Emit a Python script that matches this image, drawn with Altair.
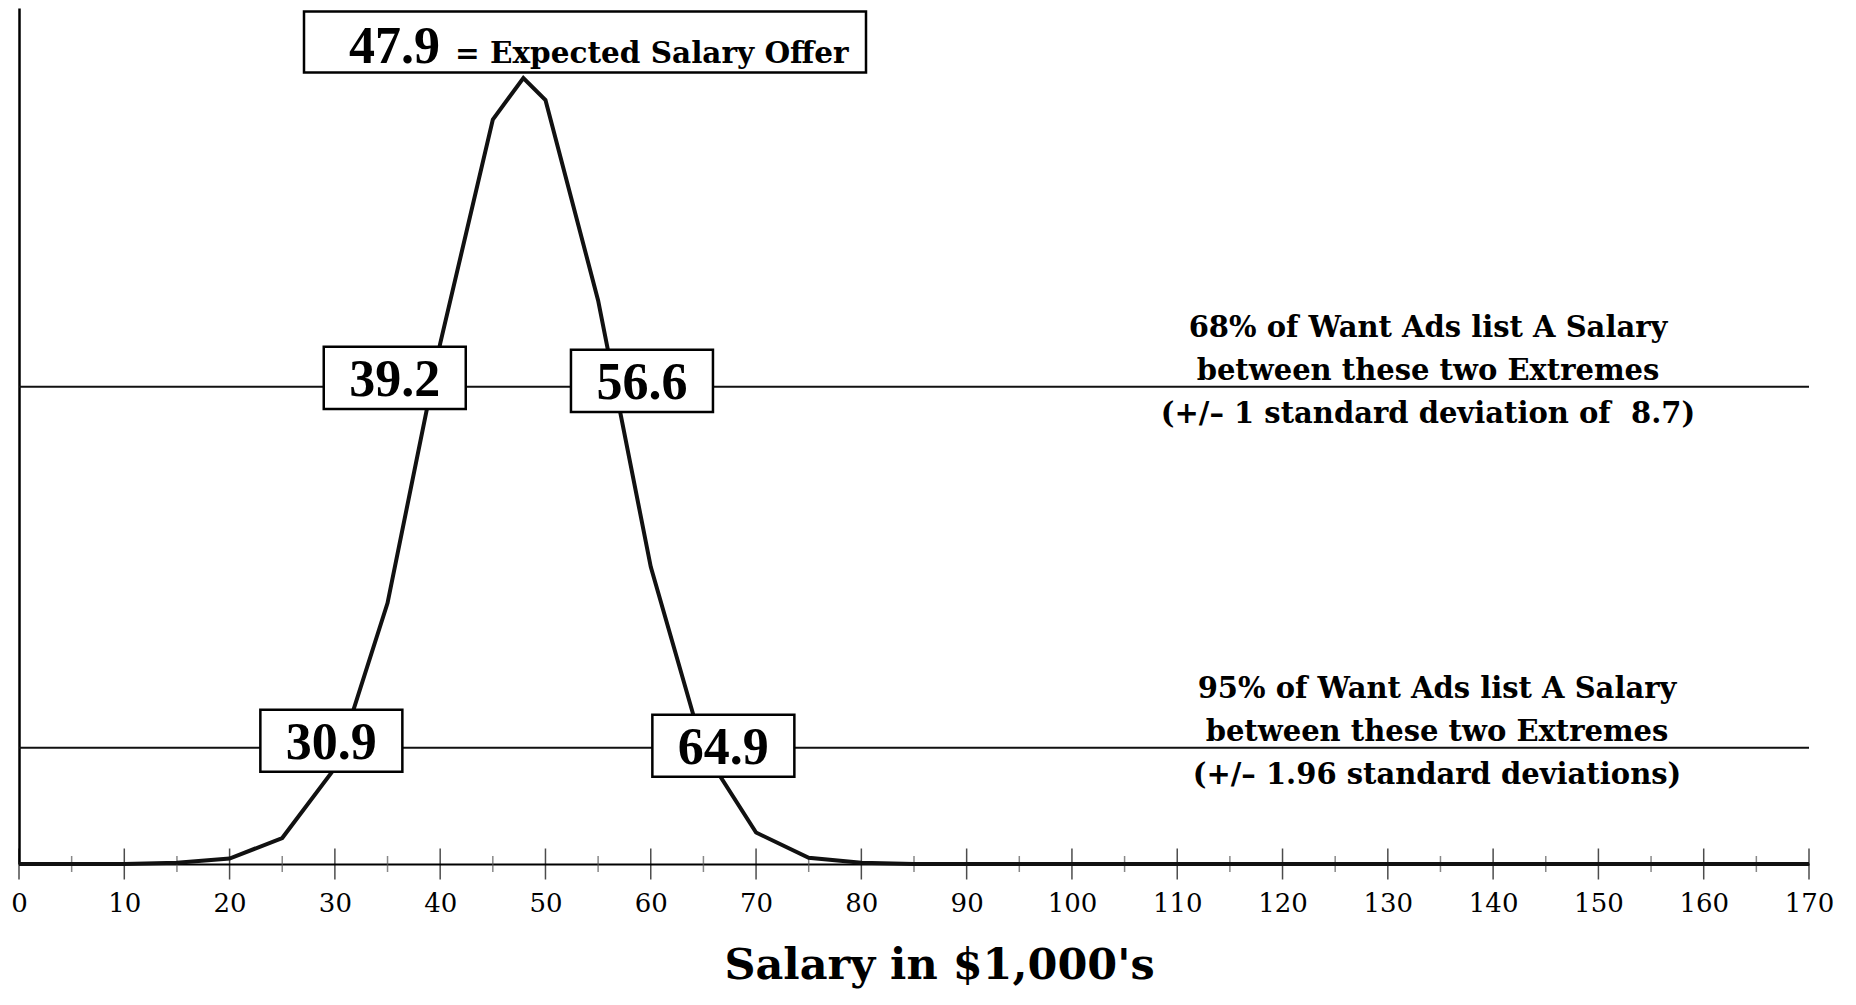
import altair as alt
import pandas as pd

# ---------------- data ----------------
salary_k = [0, 5, 10, 15, 20, 25, 30, 35, 40, 45, 47.9, 50, 55, 60, 65, 70, 75, 80, 85,
            90, 95, 100, 105, 110, 115, 120, 125, 130, 135, 140, 145, 150, 155, 160, 165, 170]
density_pct = [0, 0, 0, 0.15, 0.7, 3.3, 12.2, 33.2, 66.2, 94.7, 100, 97.2, 71.7, 37.8, 14.5, 4.0, 0.8, 0.15, 0,
               0, 0, 0, 0, 0, 0, 0, 0, 0, 0, 0, 0, 0, 0, 0, 0, 0]

mean_salary = 47.9
band_levels = [60.7, 14.8]                 # curve height at +/-1 sd and +/-1.96 sd
bound_values = [39.2, 56.6, 30.9, 64.9]    # lower/upper extremes
bound_band = [0, 0, 1, 1]
band_notes = [
    ["68% of Want Ads list A Salary", "between these two Extremes", "(+/\u2013 1 standard deviation of \u00a08.7)"],
    ["95% of Want Ads list A Salary", "between these two Extremes", "(+/\u2013 1.96 standard deviations)"],
]
major_ticks = list(range(0, 171, 10))
minor_ticks = list(range(5, 171, 10))

# ---------------- layout (pixels) ----------------
W, H = 1790, 856
X_MAX, Y_MAX = 170, 108.9
PX_X = W / X_MAX
PX_Y = H / Y_MAX
box_shift_x = [-37, 27, -13, 21]          # box centre offset from the value, px
box_shift_y = [9, 6, 7, 2]                # box centre above its line, px
note_center_px = [1409, 1418]             # centre of note blocks from left of plot
top_box_center_px = (566, 822)            # (from left, from bottom) of plot

FONT = "DejaVu Serif"
NUM_FONT = "Liberation Serif"
INK = "#111111"

curve = pd.DataFrame({"sal": salary_k, "dens": density_pct})
levels = pd.DataFrame({"dens": band_levels})
ticks_major = pd.DataFrame({"sal": major_ticks, "dens": [0] * len(major_ticks)})
ticks_minor = pd.DataFrame({"sal": minor_ticks, "dens": [0] * len(minor_ticks)})

boxes = pd.DataFrame({
    "sal": [v + s / PX_X for v, s in zip(bound_values, box_shift_x)],
    "dens": [band_levels[b] + s / PX_Y for b, s in zip(bound_band, box_shift_y)],
    "label": [f"{v:.1f}" for v in bound_values],
})
notes = pd.DataFrame({
    "sal": [c / PX_X for c in note_center_px],
    "dens": band_levels,
    "label": ["\n".join(n) for n in band_notes],
})
top = pd.DataFrame({
    "sal": [top_box_center_px[0] / PX_X],
    "dens": [top_box_center_px[1] / PX_Y],
    "num": [f"{mean_salary:.1f}"],
    "txt": ["= Expected Salary Offer"],
})

xs = alt.Scale(domain=[0, X_MAX], nice=False, zero=False)
ys = alt.Scale(domain=[0, Y_MAX], nice=False)

x_axis = alt.Axis(values=major_ticks, ticks=False, tickSize=0, labelPadding=26,
                  labelFont=FONT, labelFontSize=26, labelColor="black",
                  labelFlush=False, labelOverlap=False, grid=False,
                  domainColor="black", domainWidth=2,
                  title="Salary in $1,000's", titleFont=FONT, titleFontSize=43,
                  titleFontWeight="bold", titleColor="black", titleX=920, titleY=114,
                  titleBaseline="alphabetic")
y_axis = alt.Axis(ticks=False, labels=False, grid=False, title="",
                  domainColor="black", domainWidth=2.5)


def X():
    return alt.X("sal:Q", scale=xs, axis=x_axis)


def Y():
    return alt.Y("dens:Q", scale=ys, axis=y_axis)


rules = alt.Chart(levels).mark_rule(color=INK, strokeWidth=2).encode(y=Y())

major = alt.Chart(ticks_major).mark_tick(orient="vertical", size=31, thickness=1.5, color="black").encode(
    x=X(), y=Y()
)
minor = alt.Chart(ticks_minor).mark_tick(orient="vertical", size=16, thickness=1.5, color="#555555").encode(
    x=X(), y=Y()
)

line = alt.Chart(curve).mark_line(color=INK, strokeWidth=4, strokeJoin="miter").encode(x=X(), y=Y())

box_w = 142
small_box = alt.Chart(boxes).mark_point(
    shape="M-1,-0.437L1,-0.437L1,0.437L-1,0.437Z", size=box_w * box_w,
    filled=True, fill="white", stroke="black", strokeWidth=2.5, opacity=1
).encode(x=X(), y=Y())

small_txt = alt.Chart(boxes).mark_text(
    font=NUM_FONT, fontWeight="bold", fontSize=52, color="black",
    align="center", baseline="alphabetic", dy=18
).encode(x=X(), y=Y(), text="label:N")

top_w = 562
top_box = alt.Chart(top).mark_point(
    shape="M-1,-0.1085L1,-0.1085L1,0.1085L-1,0.1085Z", size=top_w * top_w,
    filled=True, fill="white", stroke="black", strokeWidth=2.5, opacity=1
).encode(x=X(), y=Y())

top_num = alt.Chart(top).mark_text(
    font=NUM_FONT, fontWeight="bold", fontSize=52, color="black",
    align="right", baseline="alphabetic", dx=-145, dy=21
).encode(x=X(), y=Y(), text="num:N")

top_txt = alt.Chart(top).mark_text(
    font=FONT, fontWeight="bold", fontSize=29.5, color="black",
    align="left", baseline="alphabetic", dx=-130, dy=21
).encode(x=X(), y=Y(), text="txt:N")

note_txt = alt.Chart(notes).mark_text(
    font=FONT, fontWeight="bold", fontSize=29, color="black",
    align="center", baseline="alphabetic", lineBreak="\n", lineHeight=43, dy=-50
).encode(x=X(), y=Y(), text="label:N")

chart = alt.layer(
    rules, major, minor, line, small_box, small_txt, top_box, top_num, top_txt, note_txt
).properties(
    width=W, height=H,
    autosize=alt.AutoSizeParams(type="none"),
    padding={"left": 11, "top": 0, "right": 39, "bottom": 127},
).configure_view(strokeOpacity=0)

chart.save("out.html", embed_options={"renderer": "svg", "actions": False})
